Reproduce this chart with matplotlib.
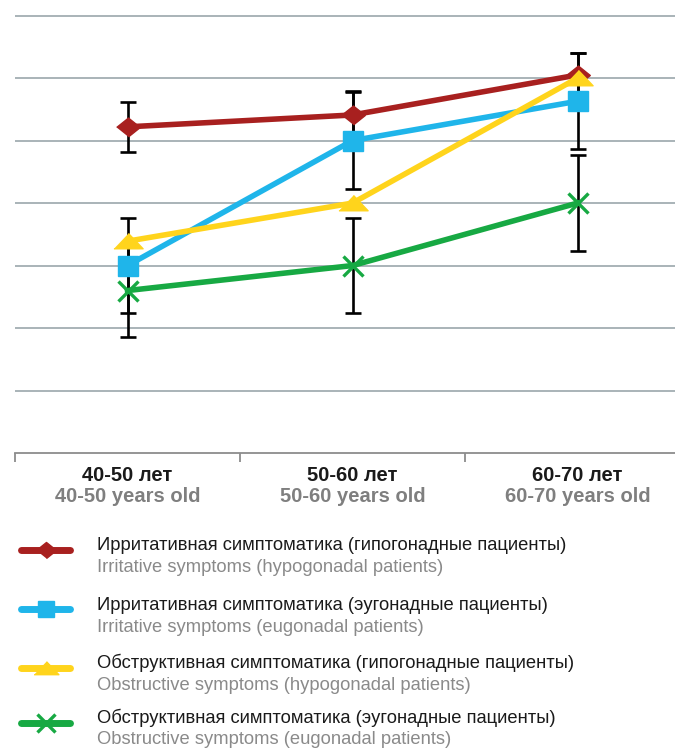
import numpy as np
import matplotlib.pyplot as plt
from matplotlib.lines import Line2D

# DATA
groups_ru = ['40-50 лет', '50-60 лет', '60-70 лет']
groups_en = ['40-50 years old', '50-60 years old', '60-70 years old']

irr_hypo = [5.22, 5.41, 6.05]
irr_hypo_err = [0.40, 0.38, 0.35]
irr_eugo = [3.0, 5.0, 5.63]
irr_eugo_err = [0.76, 0.77, 0.77]
obs_hypo = [3.39, 4.0, 6.0]
obs_eugo = [2.6, 3.0, 4.0]
obs_eugo_err = [0.75, 0.76, 0.77]

labels_ru = ['Ирритативная симптоматика (гипогонадные пациенты)',
             'Ирритативная симптоматика (эугонадные пациенты)',
             'Обструктивная симптоматика (гипогонадные пациенты)',
             'Обструктивная симптоматика (эугонадные пациенты)']
labels_en = ['Irritative symptoms (hypogonadal patients)',
             'Irritative symptoms (eugonadal patients)',
             'Obstructive symptoms (hypogonadal patients)',
             'Obstructive symptoms (eugonadal patients)']

# STYLE
red, blue, yellow, green = '#A8201F', '#1FB5EA', '#FFD41C', '#17A943'
diamond = [(-1, 0), (0, 0.8), (1, 0), (0, -0.8)]
tri = [(-1, -0.5), (1, -0.5), (0, 0.55)]
sans = ['Liberation Sans', 'DejaVu Sans']

W, H = 675, 752
fig = plt.figure(figsize=(W / 100, H / 100), dpi=100)
ax = fig.add_axes([15 / W, (H - 453) / H, 1.0, (453 - 15) / H])
x = np.arange(len(groups_ru))

ebar = dict(fmt='none', ecolor='black', elinewidth=1.9, capsize=5.8, capthick=1.9, zorder=2)
ax.errorbar(x, irr_hypo, yerr=irr_hypo_err, **ebar)
ax.errorbar(x, irr_eugo, yerr=irr_eugo_err, **ebar)
ax.errorbar(x, obs_eugo, yerr=obs_eugo_err, **ebar)

series = [
    (irr_hypo, red, diamond, 17, {}),
    (irr_eugo, blue, 's', 14, {}),
    (obs_hypo, yellow, tri, 21, {}),
    (obs_eugo, green, 'x', 15, {'markeredgewidth': 2.4}),
]
for vals, c, m, ms, kw in series:
    ax.plot(x, vals, color=c, lw=4.0, marker=m, ms=ms, mec=c, mfc=c, zorder=3, **kw)

ax.set_xlim(-0.5, 2.5)
ax.set_ylim(0, 7.01)
for yv in range(1, 8):
    ax.axhline(yv, color='#A3AEB2', lw=1.3, zorder=1)

for s in ['top', 'right', 'left']:
    ax.spines[s].set_visible(False)
ax.spines['bottom'].set_color('#8C8C8C')
ax.spines['bottom'].set_linewidth(1.3)
ax.set_yticks([])
ax.set_xticks([-0.5, 0.5, 1.5, 2.5])
ax.set_xticklabels([])
ax.tick_params(axis='x', direction='out', length=6.5, width=1.3, color='#8C8C8C')

for i in x:
    ax.annotate(groups_ru[i], (i, 0), xytext=(0, -16), textcoords='offset points',
                ha='center', va='center', fontsize=14.5, fontweight='bold',
                color='#1A1A1A', family=sans)
    ax.annotate(groups_en[i], (i, 0), xytext=(0, -31), textcoords='offset points',
                ha='center', va='center', fontsize=14.5, fontweight='bold',
                color='#7F7F7F', family=sans)

# LEGEND (hand built)
rows = [550, 609, 668, 723]
ru_y = [545, 605, 663, 718]
en_y = [567, 628, 685, 740]
for k, (vals, c, m, ms, kw) in enumerate(series):
    yl = 1 - rows[k] / H
    fig.add_artist(Line2D([21 / W, 70 / W], [yl, yl], color=c, lw=5,
                          solid_capstyle='round', transform=fig.transFigure))
    fig.add_artist(Line2D([46 / W], [yl], marker=m, ms=ms * 0.85, color=c, mec=c, mfc=c,
                          transform=fig.transFigure, **kw))
    fig.text(97 / W, 1 - ru_y[k] / H, labels_ru[k], fontsize=13.2,
             color='#1A1A1A', va='center', ha='left', family=sans)
    fig.text(97 / W, 1 - en_y[k] / H, labels_en[k], fontsize=13.2,
             color='#8A8A8A', va='center', ha='left', family=sans)

fig.savefig('out.png', dpi=100)
